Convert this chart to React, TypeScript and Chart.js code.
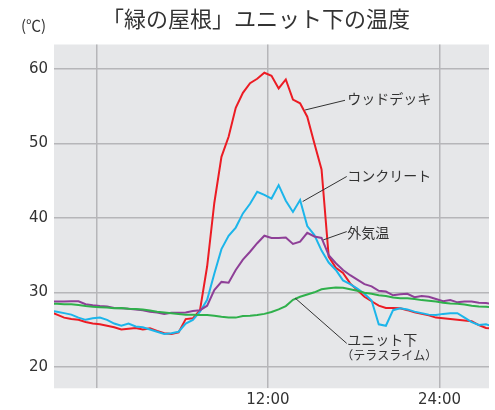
import React, { useEffect, useRef } from "react";
import { Chart, registerables } from "chart.js";

Chart.register(...registerables);

const titleText = "「緑の屋根」ユニット下の温度";
const unitText = "(℃)";

const times = [
  -3.25, -2.75, -2.25, -1.75, -1.25, -0.75, -0.25, 0.25, 0.75, 1.25,
  1.75, 2.25, 2.75, 3.25, 3.75, 4.25, 4.75, 5.25, 5.75, 6.25,
  6.75, 7.25, 7.75, 8.25, 8.75, 9.25, 9.75, 10.25, 10.75, 11.25,
  11.75, 12.25, 12.75, 13.25, 13.75, 14.25, 14.75, 15.25, 15.75, 16.25,
  16.75, 17.25, 17.75, 18.25, 18.75, 19.25, 19.75, 20.25, 20.75, 21.25,
  21.75, 22.25, 22.75, 23.25, 23.75, 24.25, 24.75, 25.25, 25.75, 26.25,
  26.75, 27.25, 27.75,
];

const woodDeck = [
  27.4, 27.0, 26.6, 26.4, 26.3, 26.0, 25.8, 25.7, 25.5, 25.3,
  25.0, 25.1, 25.2, 25.0, 25.15, 24.8, 24.5, 24.4, 24.6, 26.4,
  26.5, 27.6, 33.5, 42.0, 48.2, 50.9, 54.8, 56.8, 58.1, 58.7,
  59.5, 59.1, 57.4, 58.6, 55.9, 55.4, 53.6, 50.0, 46.5, 34.8,
  33.3, 32.6, 31.2, 30.3, 29.4, 28.8, 28.2, 27.9, 27.9, 27.85,
  27.6, 27.3, 27.1, 26.9, 26.6, 26.5, 26.4, 26.3, 26.2, 26.1,
  25.6, 25.2, 25.1,
];

const concrete = [
  27.5, 27.4, 27.2, 27.0, 26.6, 26.3, 26.5, 26.6, 26.3, 25.8,
  25.5, 25.8, 25.4, 25.3, 25.0, 24.7, 24.4, 24.5, 24.7, 25.8,
  26.3, 27.4, 29.0, 32.5, 35.8, 37.6, 38.7, 40.6, 41.9, 43.5,
  43.1, 42.6, 44.4, 42.3, 40.8, 42.4, 38.9, 37.7, 35.6, 34.0,
  33.0, 31.6, 31.1, 30.5, 29.8, 28.9, 25.7, 25.5, 27.6, 27.85,
  27.7, 27.4, 27.2, 27.0, 26.95, 27.1, 27.2, 27.2, 26.6, 26.0,
  25.6, 25.7, 25.4,
];

const outdoor = [
  28.75, 28.75, 28.75, 28.8, 28.8, 28.4, 28.25, 28.15, 28.1, 27.9,
  27.85, 27.8, 27.7, 27.6, 27.4, 27.3, 27.1, 27.25, 27.25, 27.3,
  27.5, 27.6, 28.2, 30.3, 31.4, 31.3, 33.0, 34.4, 35.45, 36.6,
  37.6, 37.3, 37.3, 37.35, 36.5, 36.8, 38.0, 37.5, 37.3, 35.0,
  33.9, 33.0, 32.3, 31.7, 31.1, 30.8, 30.2, 30.1, 29.6, 29.75,
  29.8, 29.35, 29.5, 29.4, 29.1, 28.8, 28.95, 28.65, 28.75, 28.75,
  28.6, 28.55, 28.45,
];

const unitUnder = [
  28.5, 28.45, 28.4, 28.4, 28.3, 28.15, 28.05, 28.0, 27.95, 27.85,
  27.9, 27.8, 27.75, 27.7, 27.55, 27.4, 27.3, 27.2, 27.1, 27.0,
  27.0, 26.95, 26.95, 26.85, 26.7, 26.6, 26.6, 26.8, 26.85, 26.95,
  27.1, 27.35, 27.7, 28.15, 29.0, 29.4, 29.7, 30.0, 30.4, 30.55,
  30.65, 30.6, 30.4, 30.2, 29.95, 29.8, 29.6, 29.5, 29.3, 29.2,
  29.2, 29.1, 28.95, 28.85, 28.75, 28.6, 28.5, 28.45, 28.35, 28.2,
  28.1, 28.05, 28.0,
];

const xTickValues = [0, 12, 24];
const xTickLabels = ["", "12:00", "24:00"];
const yTickValues = [20, 30, 40, 50, 60];

// Leader-line annotations in data coordinates: [fromT, fromV, toT, toV, textT, textV]
const annotationNames = ["ウッドデッキ", "コンクリート", "外気温", "ユニット下"];
const annotationSubs = ["", "", "", "（テラスライム）"];
const annotationAnchors = [
  [14.6, 54.5, 17.39, 55.8, 17.55, 56.0],
  [14.43, 42.2, 17.51, 45.56, 17.55, 45.7],
  [15.87, 37.04, 17.51, 38.16, 17.55, 38.0],
  [13.9, 29.23, 17.51, 23.14, 17.55, 23.67],
];

const CJK = '"Noto Sans CJK JP", "Noto Sans", sans-serif';

export default function App() {
  const ref = useRef<HTMLCanvasElement | null>(null);

  useEffect(() => {
    if (!ref.current) return;

    const decor = {
      id: "decor",
      beforeDraw(chart: any) {
        const { ctx, chartArea: a } = chart;
        ctx.save();
        ctx.fillStyle = "#e6e7e9";
        ctx.fillRect(a.left, a.top, a.right - a.left, a.bottom - a.top);
        ctx.restore();
      },
      afterDraw(chart: any) {
        const { ctx } = chart;
        const xs = chart.scales.x;
        const ys = chart.scales.y;
        ctx.save();
        ctx.fillStyle = "#333";
        ctx.textBaseline = "middle";
        ctx.textAlign = "left";
        ctx.font = `22px ${CJK}`;
        ctx.fillText(titleText, 102, 19);
        ctx.font = `15px ${CJK}`;
        ctx.fillText(unitText, 21, 25);

        ctx.strokeStyle = "#333";
        ctx.lineWidth = 1;
        annotationAnchors.forEach((p, i) => {
          ctx.beginPath();
          ctx.moveTo(xs.getPixelForValue(p[0]), ys.getPixelForValue(p[1]));
          ctx.lineTo(xs.getPixelForValue(p[2]), ys.getPixelForValue(p[3]));
          ctx.stroke();
          const tx = xs.getPixelForValue(p[4]);
          const ty = ys.getPixelForValue(p[5]);
          ctx.font = `14px ${CJK}`;
          ctx.fillText(annotationNames[i], tx, ty);
          if (annotationSubs[i]) {
            ctx.font = `12px ${CJK}`;
            ctx.fillText(annotationSubs[i], tx - 6, ty + 16);
          }
        });
        ctx.restore();
      },
    };

    const mk = (label: string, data: number[], color: string) => ({
      label,
      data: data.map((v, i) => ({ x: times[i], y: v })),
      borderColor: color,
      backgroundColor: color,
      borderWidth: 2,
      pointRadius: 0,
      tension: 0,
      fill: false,
    });

    const chart = new Chart(ref.current, {
      type: "line",
      data: {
        datasets: [
          mk("ユニット下", unitUnder, "#2fb04b"),
          mk("外気温", outdoor, "#8e3f97"),
          mk("コンクリート", concrete, "#1cb5ea"),
          mk("ウッドデッキ", woodDeck, "#ec1c24"),
        ],
      },
      options: {
        responsive: false,
        animation: false,
        layout: { padding: { top: 44.5, right: 6, left: 0, bottom: 0 } },
        plugins: {
          legend: { display: false },
          title: { display: false },
          tooltip: { enabled: false },
        },
        scales: {
          x: {
            type: "linear",
            min: -2.96,
            max: 27.46,
            afterFit(s: any) {
              s.height = 21.7;
            },
            afterBuildTicks(s: any) {
              s.ticks = xTickValues.map((v) => ({ value: v }));
            },
            border: { display: false },
            grid: { color: "#b6b6b9", lineWidth: 1.5, drawTicks: false },
            ticks: {
              autoSkip: false,
              maxRotation: 0,
              padding: 3,
              color: "#333",
              font: { family: "DejaVu Sans", size: 15 },
              callback: (v: any) => {
                const i = xTickValues.indexOf(Number(v));
                return i >= 0 ? xTickLabels[i] : "";
              },
            },
          },
          y: {
            type: "linear",
            min: 17.1,
            max: 63.3,
            afterFit(s: any) {
              s.width = 54;
            },
            afterBuildTicks(s: any) {
              s.ticks = yTickValues.map((v) => ({ value: v }));
            },
            border: { display: false },
            grid: { color: "#b6b6b9", lineWidth: 1.5, drawTicks: false },
            ticks: {
              autoSkip: false,
              padding: 6,
              color: "#333",
              font: { family: "DejaVu Sans", size: 15 },
            },
          },
        },
      },
      plugins: [decor],
    });

    return () => chart.destroy();
  }, []);

  return (
    <div style={{ position: "absolute", left: 0, top: 0, width: 495, height: 410 }}>
      <canvas ref={ref} width={495} height={410} />
    </div>
  );
}
